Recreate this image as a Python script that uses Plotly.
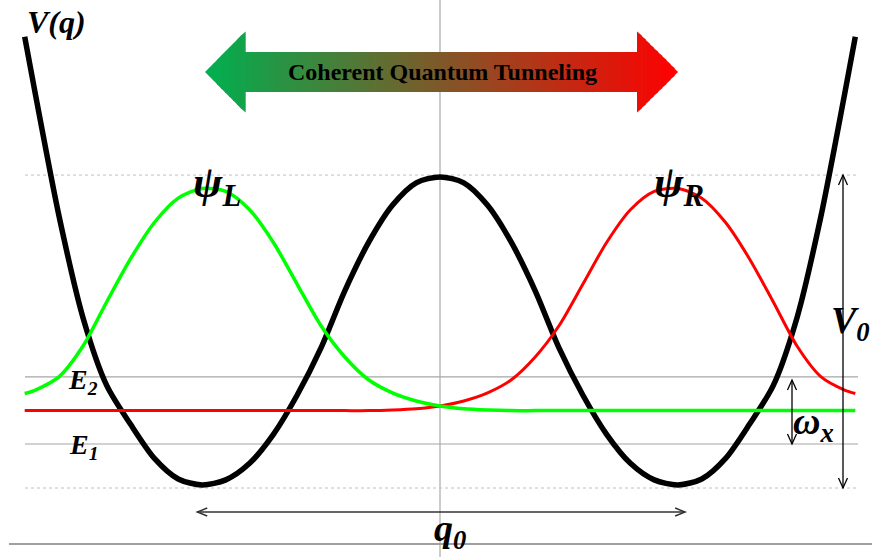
import plotly.graph_objects as go

W, H = 872, 557

# ---- data (q in units of the well position, V in units of the barrier height V0) ----
q = [-1.745, -1.7, -1.6, -1.5, -1.4, -1.3, -1.2, -1.1, -1.0, -0.9, -0.8, -0.7, -0.6, -0.5,
     -0.4, -0.3, -0.2, -0.1, 0.0, 0.1, 0.2, 0.3, 0.4, 0.5, 0.6, 0.7, 0.8, 0.9, 1.0, 1.1,
     1.2, 1.3, 1.4, 1.5, 1.6, 1.7, 1.745]
V = [1.446, 1.262, 0.869, 0.546, 0.328, 0.204, 0.095, 0.029, 0.010, 0.026, 0.079, 0.172,
     0.298, 0.449, 0.632, 0.787, 0.906, 0.978, 0.997, 0.978, 0.906, 0.787, 0.632, 0.449,
     0.298, 0.172, 0.079, 0.026, 0.010, 0.029, 0.095, 0.204, 0.328, 0.546, 0.869, 1.262, 1.446]
psi_L = [0.303, 0.314, 0.357, 0.455, 0.597, 0.735, 0.851, 0.929, 0.960, 0.951, 0.892, 0.787,
         0.653, 0.520, 0.420, 0.347, 0.305, 0.279, 0.263, 0.254, 0.250, 0.248, 0.248, 0.248,
         0.248, 0.248, 0.248, 0.248, 0.248, 0.248, 0.248, 0.248, 0.248, 0.248, 0.248, 0.248, 0.248]
psi_R = [0.248, 0.248, 0.248, 0.248, 0.248, 0.248, 0.248, 0.248, 0.248, 0.248, 0.248, 0.248,
         0.248, 0.248, 0.248, 0.248, 0.250, 0.254, 0.263, 0.279, 0.305, 0.347, 0.420, 0.520,
         0.653, 0.787, 0.892, 0.951, 0.960, 0.929, 0.851, 0.735, 0.597, 0.455, 0.357, 0.314, 0.303]

E_levels = [0.141, 0.356]        # E1, E2
V0_levels = [0.0, 1.003]         # bottom of wells, top of barrier
q0_span = [-1.02, 1.03]
wx_span = [0.141, 0.346]

# ---- pixel helpers for decorations ----
def X(px):
    return (px - 440) / 238.0

def Y(py):
    return (488 - py) / 312.0

def PX(qv):
    return 440 + 238.0 * qv

def PY(vv):
    return 488 - 312.0 * vv

fig = go.Figure()

fig.add_trace(go.Scatter(x=q, y=V, mode="lines", line=dict(color="black", width=5.5, shape="spline", smoothing=0.8),
                         hoverinfo="skip"))
fig.add_trace(go.Scatter(x=q, y=psi_R, mode="lines", line=dict(color="#ff0000", width=3, shape="spline", smoothing=0.8),
                         hoverinfo="skip"))
fig.add_trace(go.Scatter(x=q, y=psi_L, mode="lines", line=dict(color="#00ff00", width=3.5, shape="spline", smoothing=0.8),
                         hoverinfo="skip"))

shapes = []
xl, xr = X(25), X(858)
# dotted reference lines
for v in V0_levels:
    shapes.append(dict(type="line", xref="x", yref="y", x0=xl, x1=xr, y0=v, y1=v,
                       line=dict(color="#c0c0c0", width=1, dash="dot"), layer="below"))
# energy lines
for v in E_levels:
    shapes.append(dict(type="line", xref="x", yref="y", x0=xl, x1=xr, y0=v, y1=v,
                       line=dict(color="#a6a6a6", width=1.2), layer="below"))
# vertical centre line
shapes.append(dict(type="line", xref="x", yref="paper", x0=0, x1=0, y0=0, y1=1,
                   line=dict(color="#999999", width=1), layer="below"))
# bottom axis line
shapes.append(dict(type="line", xref="paper", yref="y", x0=9 / W, x1=1, y0=Y(544), y1=Y(544),
                   line=dict(color="#a0a0a0", width=2), layer="below"))

# gradient double arrow
c0 = (0, 176, 80)
c1 = (255, 0, 0)
xa, xb, xc, xd = 205.0, 245.0, 637.0, 678.0
yc = 72.0

def col(x):
    t = (x - xa) / (xd - xa)
    return "rgb(%d,%d,%d)" % tuple(round(c0[i] + (c1[i] - c0[i]) * t) for i in range(3))

edges = []
n1, n2, n3 = 10, 98, 10
for i in range(n1):
    edges.append((xa + (xb - xa) * i / n1, xa + (xb - xa) * (i + 1) / n1, "L"))
for i in range(n2):
    edges.append((xb + (xc - xb) * i / n2, xb + (xc - xb) * (i + 1) / n2, "M"))
for i in range(n3):
    edges.append((xc + (xd - xc) * i / n3, xc + (xd - xc) * (i + 1) / n3, "R"))

def hh(x, seg):
    if seg == "L":
        return 40.5 * (x - xa) / (xb - xa)
    if seg == "R":
        return 40.5 * (xd - x) / (xd - xc)
    return 20.0

for k, (a, b, seg) in enumerate(edges):
    ha, hb = hh(a, seg), hh(b, seg)
    bb = b + 0.7 if k < len(edges) - 1 else b
    if seg == "L" and k < len(edges) - 1:
        hb2 = hh(min(bb, xb), seg)
    else:
        hb2 = hb
    path = "M {:.5f},{:.5f} L {:.5f},{:.5f} L {:.5f},{:.5f} L {:.5f},{:.5f} Z".format(
        X(a), Y(yc - ha), X(bb), Y(yc - hb2), X(bb), Y(yc + hb2), X(a), Y(yc + ha))
    shapes.append(dict(type="path", xref="x", yref="y", path=path,
                       fillcolor=col((a + b) / 2), line=dict(width=0), layer="above"))

# thin double arrows
def vline_arrow(xq, v_lo, v_hi, color="black", w=1.3):
    px = PX(xq)
    top, bot = PY(v_hi), PY(v_lo)
    out = [dict(type="line", xref="x", yref="y", x0=xq, x1=xq, y0=v_lo, y1=v_hi,
                line=dict(color=color, width=w))]
    out.append(dict(type="path", xref="x", yref="y",
                    path="M {},{} L {},{} L {},{}".format(X(px - 4.5), Y(top + 10), X(px), Y(top), X(px + 4.5), Y(top + 10)),
                    line=dict(color=color, width=w)))
    out.append(dict(type="path", xref="x", yref="y",
                    path="M {},{} L {},{} L {},{}".format(X(px - 4.5), Y(bot - 10), X(px), Y(bot), X(px + 4.5), Y(bot - 10)),
                    line=dict(color=color, width=w)))
    return out

shapes += vline_arrow(X(843), V0_levels[0], V0_levels[1])
shapes += vline_arrow(X(792), wx_span[0], wx_span[1])

yq = Y(512)
pl, pr = PX(q0_span[0]), PX(q0_span[1])
shapes.append(dict(type="line", xref="x", yref="y", x0=q0_span[0], x1=q0_span[1], y0=yq, y1=yq,
                   line=dict(color="#333333", width=1.6)))
shapes.append(dict(type="path", xref="x", yref="y",
                   path="M {},{} L {},{} L {},{}".format(X(pl + 10), Y(508), X(pl), Y(512), X(pl + 10), Y(516)),
                   line=dict(color="#333333", width=1.4)))
shapes.append(dict(type="path", xref="x", yref="y",
                   path="M {},{} L {},{} L {},{}".format(X(pr - 10), Y(508), X(pr), Y(512), X(pr - 10), Y(516)),
                   line=dict(color="#333333", width=1.4)))

SERIF = "Liberation Serif, Times New Roman, serif"

def ann(px, py, text, size, color="black"):
    return dict(x=px / W, y=1 - py / H, xref="paper", yref="paper", text=text, showarrow=False,
                font=dict(family=SERIF, size=size, color=color), xanchor="center", yanchor="middle")

annotations = [
    ann(56, 22, "<b><i>V(q)</i></b>", 32),
    ann(217, 185, "<b><i>ψ<sub>L</sub></i></b>", 44),
    ann(679, 185, "<b><i>ψ<sub>R</sub></i></b>", 44),
    ann(83, 381, "<b><i>E<sub>2</sub></i></b>", 28),
    ann(83, 446, "<b><i>E<sub>1</sub></i></b>", 28),
    ann(850, 323, "<b><i>V<sub>0</sub></i></b>", 38),
    ann(813, 424, "<b><i>ω<sub>x</sub></i></b>", 38),
    ann(450, 531, "<b><i>q<sub>0</sub></i></b>", 38),
    ann(442, 72, "<b>Coherent Quantum Tunneling</b>", 24),
]

fig.update_layout(
    width=W, height=H, margin=dict(l=0, r=0, t=0, b=0),
    paper_bgcolor="white", plot_bgcolor="white", showlegend=False,
    xaxis=dict(range=[X(0), X(W)], visible=False, fixedrange=True),
    yaxis=dict(range=[Y(H), Y(0)], visible=False, fixedrange=True),
    shapes=shapes, annotations=annotations,
)

fig.write_html("out.html", config={"displayModeBar": False},
               post_script="document.body.style.margin='0px';document.body.style.overflow='hidden';")
